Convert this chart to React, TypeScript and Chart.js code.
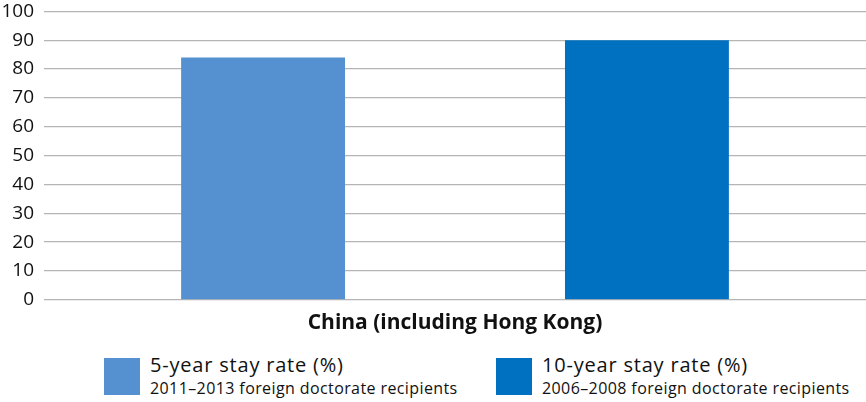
import React, { useEffect, useRef } from 'react'
import { Chart, registerables } from 'chart.js'

Chart.register(...registerables)

const categories = ['China (including Hong Kong)']
const fiveYearRate = [84]
const tenYearRate = [90]
const seriesNames = ['5-year stay rate (%)', '10-year stay rate (%)']
const seriesNotes = ['2011–2013 foreign doctorate recipients', '2006–2008 foreign doctorate recipients']
const colors = ['#5591d1', '#0070c0']

const FONT = '"Open Sans", "Noto Sans", sans-serif'

export default function App() {
  const canvasRef = useRef<HTMLCanvasElement>(null)
  const chartRef = useRef<Chart | null>(null)

  useEffect(() => {
    document.body.style.margin = '0'
    if (!canvasRef.current) return
    chartRef.current?.destroy()

    chartRef.current = new Chart(canvasRef.current, {
      type: 'bar',
      data: {
        labels: categories,
        datasets: [
          { label: seriesNames[0], data: fiveYearRate, backgroundColor: colors[0] },
          { label: seriesNames[1], data: tenYearRate, backgroundColor: colors[1] },
        ],
      },
      options: {
        animation: false,
        responsive: true,
        maintainAspectRatio: false,
        layout: { padding: { top: 2, right: 0, left: 0, bottom: 0 } },
        datasets: { bar: { categoryPercentage: 0.934, barPercentage: 0.427 } },
        plugins: { legend: { display: false }, tooltip: { enabled: false } },
        scales: {
          x: {
            grid: { display: false },
            border: { display: false },
            ticks: { color: '#111', padding: 3, font: { family: FONT, size: 21, weight: 'bold' } },
          },
          y: {
            min: 0,
            max: 100,
            border: { display: false },
            grid: { color: '#b5b5b5', lineWidth: 1.3, drawTicks: false },
            ticks: { stepSize: 10, color: '#111', padding: 10, font: { family: FONT, size: 19 } },
            afterFit: (scale) => {
              scale.width = 44
            },
          },
        },
      },
    })

    return () => {
      chartRef.current?.destroy()
      chartRef.current = null
    }
  }, [])

  const legendItem = (i: number, left: number) => (
    <div key={i} style={{ position: 'absolute', left, top: 352, display: 'flex', fontFamily: FONT, color: '#111' }}>
      <div style={{ width: 36, height: 37, background: colors[i], marginTop: 6, marginRight: 10 }} />
      <div>
        <div style={{ fontSize: 20, lineHeight: '26px', letterSpacing: 0.8 }}>{seriesNames[i]}</div>
        <div style={{ fontSize: 16, lineHeight: '21px', letterSpacing: 0.4 }}>{seriesNotes[i]}</div>
      </div>
    </div>
  )

  return (
    <div style={{ position: 'relative', width: 866, height: 402, background: '#fff', overflow: 'hidden' }}>
      <div style={{ position: 'absolute', left: 0, top: -10, width: 866, height: 349 }}>
        <canvas ref={canvasRef} />
      </div>
      {legendItem(0, 104)}
      {legendItem(1, 496)}
    </div>
  )
}
